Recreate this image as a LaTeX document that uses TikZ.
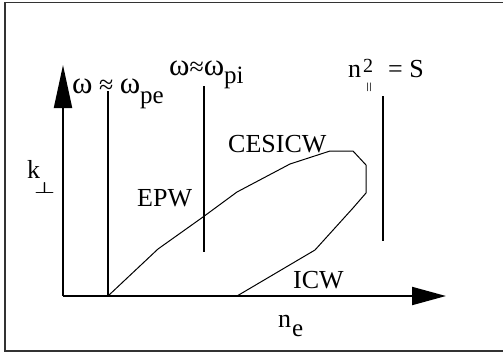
\documentclass[tikz,border=0pt]{standalone}
\usepackage{fontspec}
\setmainfont{Liberation Serif}
\usetikzlibrary{arrows.meta}
\newcommand{\bigw}{{\fontsize{31}{31}\selectfont ω}}
\begin{document}
\begin{tikzpicture}[x=1pt,y=-1pt,
  lbl/.style={inner sep=0pt,anchor=base west,font=\fontsize{26}{26}\selectfont},
  sub/.style={inner sep=0pt,anchor=base west,font=\fontsize{25}{25}\selectfont},
  axisline/.style={line width=2pt},
  vline/.style={line width=1.8pt},
  curveline/.style={line width=1pt,line join=miter},
  frameline/.style={line width=1.5pt,draw=black!80}]
\useasboundingbox (0,0) rectangle (503,356);
\clip (0,0) rectangle (503,356);
\draw[frameline] (5,2.5) rectangle (506,351);
% axes
\coordinate (O) at (63,296);
\coordinate (ytop) at (63,65);
\coordinate (xend) at (446,296);
\draw[axisline,-{Triangle[length=43pt,width=18pt]}] (O) -- (ytop);
\draw[axisline,-{Triangle[length=34pt,width=18pt]}] (O) -- (xend);
% vertical lines
\coordinate (pe1) at (108,91);
\coordinate (pe2) at (108,296);
\coordinate (pi1) at (204,86);
\coordinate (pi2) at (204,252);
\coordinate (s1) at (383,96);
\coordinate (s2) at (383,241);
\draw[vline] (pe1) -- (pe2);
\draw[vline] (pi1) -- (pi2);
\draw[vline] (s1) -- (s2);
% closed curve
\draw[curveline] (pe2) -- (158,249) -- (203,217) -- (237,192) -- (290,164)
  -- (330,151) -- (353,151) -- (366,165) -- (366,193) -- (353,208)
  -- (315,250) -- (237,296);
% labels
\node[lbl] (wpe) at (72,93) {\bigw{} ≈ \bigw};
\node[sub] (wpesub) at (140,103) {pe};
\node[lbl] (wpi) at (169,75) {\bigw≈\bigw};
\node[sub] (wpisub) at (224,83) {pi};
\node[lbl] (nS) at (348,77) {n};
\node[inner sep=0pt,anchor=base west,font=\fontsize{20}{20}\selectfont] (sq) at (363,72) {2};
\node[inner sep=0pt,anchor=north west] (par) at (365.5,82.5) {\resizebox{7pt}{6.5pt}{\boldmath$\|$}};
\node[lbl] (eqS) at (388,77) {= S};
\node[lbl] (cesicw) at (228,152) {CESICW};
\node[lbl] (epw) at (137,206) {EPW};
\node[lbl] (icw) at (293,288) {ICW};
\node[lbl] (k) at (27,178) {k};
\node[inner sep=0pt,anchor=north west] (perp) at (34,182) {\resizebox{21pt}{11pt}{\boldmath$\perp$}};
\node[lbl] (ne) at (278,327) {n};
\node[sub] (nesub) at (292,336) {e};
\end{tikzpicture}
\end{document}
